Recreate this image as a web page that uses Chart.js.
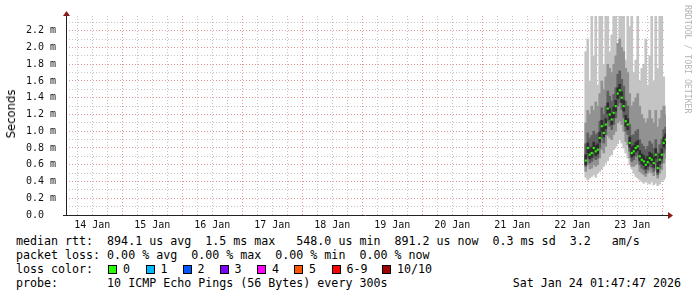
<!DOCTYPE html>
<html>
<head>
<meta charset="utf-8">
<script src="https://cdn.jsdelivr.net/npm/chart.js@4.4.1/dist/chart.umd.min.js"></script>
<style>
  body { margin: 0; background: #fff; }
  #wrap { position: relative; width: 697px; height: 297px; overflow: hidden; background: #fff; }
  #chartBox { position: absolute; left: 0; top: 0; width: 697px; height: 232px; }
  .mono { position: absolute; font-family: 'DejaVu Sans Mono', monospace; font-size: 11.65px; line-height: 14px; color: #000; white-space: pre; }
  .box { position: absolute; top: 265px; width: 9px; height: 9px; box-sizing: border-box; border: 1px solid #000; }
  #ylab { position: absolute; left: 10.5px; top: 113.5px; font-family: 'DejaVu Sans', sans-serif; font-size: 11.6px; color: #000; white-space: nowrap; transform: translate(-50%, -50%) rotate(-90deg); }
  #mark { position: absolute; left: 683px; top: 5px; font-family: 'DejaVu Sans Mono', monospace; font-size: 8.2px; color: #b4b4b4; writing-mode: vertical-rl; white-space: nowrap; }
</style>
</head>
<body>
<div id="wrap">
  <div id="chartBox"><canvas id="rttChart" width="697" height="232"></canvas></div>
  <div id="ylab">Seconds</div>
  <div id="mark">RRDTOOL / TOBI OETIKER</div>
  <div class="mono" style="left:16px;top:234px">median rtt:  894.1 us avg  1.5 ms max   548.0 us min  891.2 us now  0.3 ms sd  3.2   am/s</div>
  <div class="mono" style="left:16px;top:248px">packet loss: 0.00 % avg  0.00 % max  0.00 % min  0.00 % now</div>
  <div class="mono" style="left:16px;top:262px">loss color:</div>
  <div id="lossRow"></div>
  <div class="mono" style="left:16px;top:276px">probe:       10 ICMP Echo Pings (56 Bytes) every 300s</div>
  <div class="mono" style="right:16px;top:276px">Sat Jan 24 01:47:47 2026</div>
</div>
<script>
// giờ tính từ 14 Jan 00:00, mỗi cột ~ 2 px
const sampleHours = [209.4, 210.2, 211.0, 211.8, 212.6, 213.4, 214.2, 215.0, 215.8, 216.6,
  217.4, 218.2, 219.0, 219.8, 220.6, 221.4, 222.2, 223.0, 223.8, 224.6,
  225.4, 226.2, 227.0, 227.8, 228.6, 229.4, 230.2, 231.0, 231.8, 232.6,
  233.4, 234.2, 235.0, 235.8, 236.6, 237.4, 238.2, 239.0, 239.8, 240.6, 241.4];

// median rtt (ms)
const medianRtt = [0.65, 0.80, 0.72, 0.74, 0.80, 0.76, 0.78, 0.92, 1.06, 0.98,
  1.08, 1.27, 1.20, 1.14, 1.22, 1.30, 1.45, 1.49, 1.40, 1.30,
  1.12, 1.08, 0.86, 0.74, 0.76, 0.80, 0.82, 0.70, 0.66, 0.64,
  0.60, 0.63, 0.68, 0.66, 0.62, 0.72, 0.56, 0.66, 0.72, 0.86, 0.90];

// smoke: outer band (min..max ping)
const outerHi = [1.95, 2.10, 1.60, 2.38, 1.90, 2.38, 1.55, 2.38, 2.38, 1.80,
  2.38, 2.38, 1.95, 2.15, 2.38, 2.38, 2.05, 2.38, 2.38, 2.38,
  1.85, 2.38, 2.25, 2.38, 1.70, 1.85, 2.38, 1.60, 1.75, 1.80,
  2.10, 1.55, 1.90, 2.38, 1.60, 2.38, 1.75, 2.38, 2.38, 1.65, 1.30];
const outerLo = [0.45, 0.42, 0.44, 0.46, 0.48, 0.45, 0.50, 0.52, 0.55, 0.58,
  0.62, 0.65, 0.70, 0.72, 0.78, 0.82, 0.85, 0.90, 0.86, 0.80,
  0.74, 0.68, 0.60, 0.55, 0.50, 0.46, 0.44, 0.42, 0.40, 0.38,
  0.40, 0.38, 0.37, 0.40, 0.36, 0.38, 0.35, 0.37, 0.40, 0.42, 0.45];
// middle band
const midHi = [1.10, 1.25, 1.20, 1.30, 1.25, 1.35, 1.30, 1.45, 1.60, 1.50,
  1.65, 1.80, 1.75, 1.70, 1.80, 1.90, 2.05, 2.10, 2.00, 1.95,
  1.75, 1.70, 1.45, 1.30, 1.35, 1.40, 1.45, 1.30, 1.20, 1.15,
  1.10, 1.15, 1.25, 1.15, 1.10, 1.25, 1.05, 1.15, 1.25, 1.30, 1.20];
const midLo = [0.52, 0.60, 0.55, 0.56, 0.60, 0.58, 0.60, 0.68, 0.78, 0.74,
  0.82, 0.95, 0.92, 0.90, 0.96, 1.00, 1.10, 1.12, 1.08, 1.00,
  0.88, 0.84, 0.68, 0.58, 0.58, 0.60, 0.62, 0.52, 0.50, 0.48,
  0.46, 0.50, 0.52, 0.50, 0.47, 0.54, 0.44, 0.50, 0.54, 0.62, 0.68];
// inner band
const innerHi = [0.85, 0.98, 0.92, 0.95, 1.00, 0.96, 0.98, 1.12, 1.28, 1.20,
  1.30, 1.48, 1.42, 1.36, 1.44, 1.52, 1.68, 1.72, 1.62, 1.54,
  1.36, 1.30, 1.08, 0.95, 0.96, 1.00, 1.02, 0.90, 0.85, 0.82,
  0.78, 0.82, 0.88, 0.85, 0.80, 0.90, 0.74, 0.84, 0.90, 1.02, 1.05];
const innerLo = [0.58, 0.68, 0.62, 0.64, 0.68, 0.66, 0.68, 0.80, 0.92, 0.86,
  0.96, 1.12, 1.06, 1.02, 1.08, 1.16, 1.30, 1.34, 1.26, 1.16,
  1.00, 0.96, 0.76, 0.64, 0.66, 0.70, 0.72, 0.60, 0.56, 0.54,
  0.50, 0.54, 0.58, 0.56, 0.52, 0.62, 0.48, 0.56, 0.62, 0.74, 0.78];
// core band (sát median)
const coreHi = [0.72, 0.86, 0.79, 0.81, 0.87, 0.83, 0.85, 0.99, 1.13, 1.05,
  1.15, 1.34, 1.27, 1.21, 1.29, 1.37, 1.52, 1.56, 1.47, 1.37,
  1.19, 1.15, 0.93, 0.81, 0.83, 0.87, 0.89, 0.77, 0.73, 0.71,
  0.67, 0.70, 0.75, 0.73, 0.69, 0.79, 0.63, 0.73, 0.79, 0.93, 0.97];
const coreLo = [0.60, 0.74, 0.67, 0.69, 0.75, 0.71, 0.73, 0.87, 1.00, 0.93,
  1.03, 1.21, 1.14, 1.08, 1.16, 1.24, 1.39, 1.43, 1.34, 1.24,
  1.06, 1.02, 0.81, 0.69, 0.71, 0.75, 0.77, 0.65, 0.61, 0.59,
  0.55, 0.58, 0.63, 0.61, 0.57, 0.67, 0.51, 0.61, 0.67, 0.81, 0.85];

const lossLabels = ['0', '1', '2', '3', '4', '5', '6-9', '10/10'];
const lossColors = ['#26ff00', '#00b8ff', '#0059ff', '#7e00ff', '#ff00ff', '#ff5500', '#ff0000', '#a10000'];
const lossBoxX = [108, 145.5, 182.5, 219.5, 257, 294, 331.5, 382];

// ô màu loss
const lossRow = document.getElementById('lossRow');
lossLabels.forEach((lbl, i) => {
    const b = document.createElement('div');
    b.className = 'box';
    b.style.left = lossBoxX[i] + 'px';
    b.style.background = lossColors[i];
    lossRow.appendChild(b);
    const t = document.createElement('div');
    t.className = 'mono';
    t.style.left = (lossBoxX[i] + 15) + 'px';
    t.style.top = '262px';
    t.textContent = lbl;
    lossRow.appendChild(t);
});

function band(lo, hi) {
    return sampleHours.map((h, i) => ({ x: h, y: [lo[i], hi[i]] }));
}

const MAJOR = 'rgba(215,110,110,0.7)';
const MINOR = 'rgba(150,150,150,0.55)';

// vẽ trục và mũi tên kiểu rrdtool
const axisPlugin = {
    id: 'rrdAxes',
    afterDraw(chart) {
        const c = chart.ctx;
        const a = chart.chartArea;
        c.save();
        c.strokeStyle = '#222';
        c.lineWidth = 1;
        c.beginPath();
        c.moveTo(a.left - 3, a.bottom + 0.5);
        c.lineTo(a.right + 2, a.bottom + 0.5);
        c.moveTo(a.left + 0.5, a.bottom);
        c.lineTo(a.left + 0.5, a.top - 1);
        c.stroke();
        c.fillStyle = '#8b1a1a';
        c.beginPath();
        c.moveTo(a.left + 0.5, a.top - 5);
        c.lineTo(a.left - 3, a.top);
        c.lineTo(a.left + 4, a.top);
        c.closePath();
        c.fill();
        c.beginPath();
        c.moveTo(a.right + 7, a.bottom + 0.5);
        c.lineTo(a.right + 2, a.bottom - 3);
        c.lineTo(a.right + 2, a.bottom + 4);
        c.closePath();
        c.fill();
        c.restore();
    }
};

const barCommon = { type: 'bar', grouped: false, barThickness: 2, borderWidth: 0, borderSkipped: false };

new Chart(document.getElementById('rttChart').getContext('2d'), {
    type: 'bar',
    data: {
        datasets: [
            { ...barCommon, data: band(outerLo, outerHi), backgroundColor: 'rgb(196,196,196)', order: 5 },
            { ...barCommon, data: band(midLo, midHi), backgroundColor: 'rgb(146,146,146)', order: 4 },
            { ...barCommon, data: band(innerLo, innerHi), backgroundColor: 'rgb(96,96,96)', order: 3 },
            { ...barCommon, data: band(coreLo, coreHi), backgroundColor: 'rgb(45,45,45)', order: 2 },
            {
                type: 'line',
                data: sampleHours.map((h, i) => ({ x: h, y: medianRtt[i] })),
                showLine: false,
                pointStyle: 'rect',
                pointRadius: 1.5,
                pointBackgroundColor: '#26ff00',
                pointBorderWidth: 0,
                order: 1
            }
        ]
    },
    options: {
        responsive: false,
        animation: false,
        layout: { padding: { left: 0, right: 31, top: 13, bottom: 0 } },
        plugins: { legend: { display: false }, tooltip: { enabled: false }, title: { display: false } },
        scales: {
            x: {
                type: 'linear',
                min: 1.5,
                max: 241.5,
                offset: false,
                border: { display: false, dash: [1, 2] },
                grid: {
                    offset: false,
                    drawTicks: false,
                    color: ctx => (ctx.tick && ctx.tick.value % 24 === 0) ? MAJOR : MINOR,
                    lineWidth: 1
                },
                afterBuildTicks: scale => {
                    const t = [];
                    for (let h = 6; h <= 240; h += 6) t.push({ value: h });
                    scale.ticks = t;
                },
                afterFit: scale => { scale.height = 17; scale.paddingLeft = 0; scale.paddingRight = 0; },
                ticks: {
                    autoSkip: false,
                    maxRotation: 0,
                    padding: 4,
                    color: '#111',
                    font: { family: 'DejaVu Sans Mono', size: 10 },
                    callback: v => (v % 24 === 12) ? (14 + Math.floor(v / 24)) + ' Jan' : ''
                }
            },
            y: {
                min: 0,
                max: 2.376,
                border: { display: false, dash: [1, 2] },
                grid: {
                    drawTicks: false,
                    color: ctx => {
                        if (!ctx.tick) return MINOR;
                        const k = Math.round(ctx.tick.value * 10);
                        if (k === 0) return 'rgba(0,0,0,0)';
                        return k % 2 === 0 ? MAJOR : MINOR;
                    }
                },
                afterBuildTicks: scale => {
                    const t = [];
                    for (let k = 0; k <= 23; k++) t.push({ value: k / 10 });
                    scale.ticks = t;
                },
                afterFit: scale => { scale.width = 66; },
                ticks: {
                    autoSkip: false,
                    padding: 10,
                    color: '#111',
                    font: { family: 'DejaVu Sans Mono', size: 10 },
                    callback: v => {
                        const k = Math.round(v * 10);
                        if (k % 2 !== 0) return '';
                        return k === 0 ? '0.0  ' : (k / 10).toFixed(1) + ' m';
                    }
                }
            }
        }
    },
    plugins: [axisPlugin]
});
</script>
</body>
</html>
